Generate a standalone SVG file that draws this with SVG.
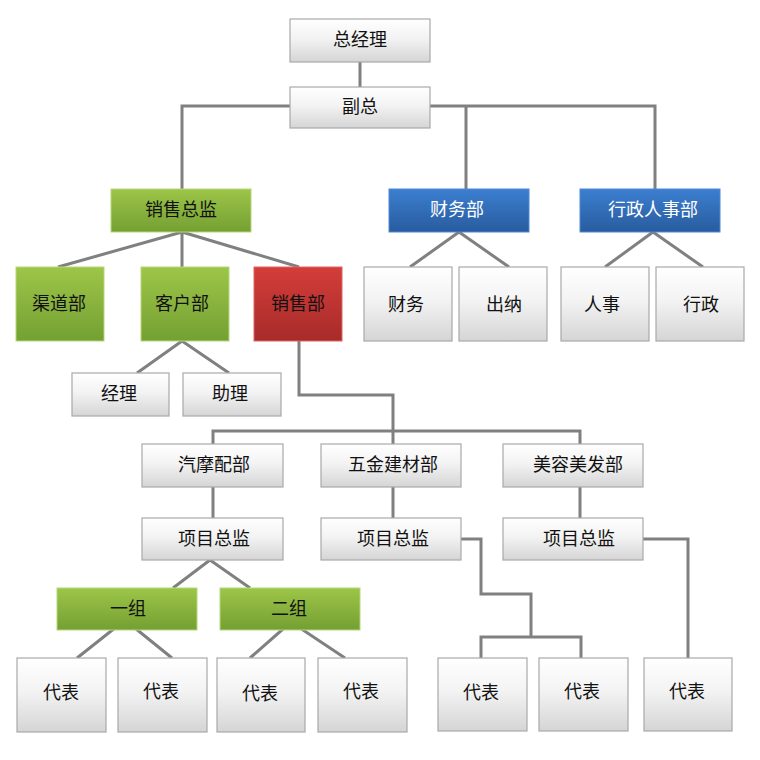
<svg xmlns="http://www.w3.org/2000/svg" width="760" height="760" viewBox="0 0 760 760">
<defs>
<linearGradient id="gGrey" x1="0" y1="0" x2="0" y2="1">
<stop offset="0" stop-color="#ffffff"/><stop offset="0.45" stop-color="#f3f3f3"/><stop offset="1" stop-color="#d5d5d5"/>
</linearGradient>
<linearGradient id="gGreen" x1="0" y1="0" x2="0" y2="1">
<stop offset="0" stop-color="#9dc548"/><stop offset="1" stop-color="#74a033"/>
</linearGradient>
<linearGradient id="gRed" x1="0" y1="0" x2="0" y2="1">
<stop offset="0" stop-color="#d43d3a"/><stop offset="1" stop-color="#a72b2a"/>
</linearGradient>
<linearGradient id="gBlue" x1="0" y1="0" x2="0" y2="1">
<stop offset="0" stop-color="#3b7fd0"/><stop offset="1" stop-color="#295b9e"/>
</linearGradient>
</defs>
<style>
.grey{fill:url(#gGrey);stroke:#a9a9a9;stroke-width:1.2}
.green{fill:url(#gGreen);stroke:#b5d77a;stroke-width:1}
.red{fill:url(#gRed);stroke:#d66;stroke-width:1}
.blue{fill:url(#gBlue);stroke:#4f8ad6;stroke-width:1}
text{font-family:"Noto Sans CJK SC","Microsoft YaHei",sans-serif;font-size:18px;text-anchor:middle;dominant-baseline:central;fill:#111}
.w{fill:#ffffff}
.c{fill:none;stroke:#808080;stroke-width:3}
</style>
<rect width="760" height="760" fill="#ffffff"/>
<g id="connectors">
<path class="c" d="M360 62V87"/>
<path class="c" d="M290 106H182V189"/>
<path class="c" d="M430 106H655V189M466 106V189"/>
<path class="c" d="M182 232L58 267M182 232V267M182 232L299 267"/>
<path class="c" d="M459 232L410 267M459 232L509 267"/>
<path class="c" d="M653 232L605 267M653 232L703 267"/>
<path class="c" d="M182 341L137 373M182 341L229 373"/>
<path class="c" d="M299 341V395H393V444"/>
<path class="c" d="M213 444V431H580V444"/>
<path class="c" d="M213 487V518M393 487V518M580 487V518"/>
<path class="c" d="M210 560L173 588M210 560L250 588"/>
<path class="c" d="M125 620L77 658M125 620L172 658"/>
<path class="c" d="M291 622L250 658M291 622L345 658"/>
<path class="c" d="M461 539H481V594H531V637M481 658V637H581V658"/>
<path class="c" d="M643 539H688V658"/>
</g>
<g id="n-zjl"><rect class="grey" x="290" y="19" width="140" height="43"/><text x="360" y="38">总经理</text></g>
<g id="n-fz"><rect class="grey" x="290" y="87" width="140" height="41"/><text x="360" y="105">副总</text></g>
<g id="n-xszj"><rect class="green" x="111" y="189" width="140" height="43"/><text x="181" y="208">销售总监</text></g>
<g id="n-cwb"><rect class="blue" x="389" y="189" width="140" height="43"/><text class="w" x="457" y="208">财务部</text></g>
<g id="n-xzrsb"><rect class="blue" x="580" y="189" width="140" height="43"/><text class="w" x="653" y="208">行政人事部</text></g>
<g id="n-qdb"><rect class="green" x="16" y="267" width="88" height="74"/><text x="59" y="302">渠道部</text></g>
<g id="n-khb"><rect class="green" x="141" y="267" width="88" height="74"/><text x="182" y="302">客户部</text></g>
<g id="n-xsb"><rect class="red" x="254" y="267" width="88" height="74"/><text x="298" y="302">销售部</text></g>
<g id="n-cw"><rect class="grey" x="364" y="267" width="88" height="74"/><text x="406" y="303">财务</text></g>
<g id="n-cn"><rect class="grey" x="459" y="267" width="88" height="74"/><text x="504" y="303">出纳</text></g>
<g id="n-rs"><rect class="grey" x="561" y="267" width="88" height="74"/><text x="602" y="303">人事</text></g>
<g id="n-xz"><rect class="grey" x="656" y="267" width="88" height="74"/><text x="701" y="303">行政</text></g>
<g id="n-jl"><rect class="grey" x="72" y="373" width="97" height="43"/><text x="119" y="392">经理</text></g>
<g id="n-zl"><rect class="grey" x="183" y="373" width="98" height="43"/><text x="230" y="392">助理</text></g>
<g id="n-qmp"><rect class="grey" x="142" y="444" width="141" height="43"/><text x="214" y="463">汽摩配部</text></g>
<g id="n-wjjc"><rect class="grey" x="321" y="444" width="140" height="43"/><text x="393" y="463">五金建材部</text></g>
<g id="n-mrmf"><rect class="grey" x="503" y="444" width="140" height="43"/><text x="578" y="463">美容美发部</text></g>
<g id="n-xmzj1"><rect class="grey" x="142" y="518" width="141" height="42"/><text x="214" y="537">项目总监</text></g>
<g id="n-xmzj2"><rect class="grey" x="321" y="518" width="140" height="42"/><text x="393" y="537">项目总监</text></g>
<g id="n-xmzj3"><rect class="grey" x="503" y="518" width="140" height="42"/><text x="579" y="537">项目总监</text></g>
<g id="n-yz"><rect class="green" x="57" y="588" width="140" height="42"/><text x="128" y="607">一组</text></g>
<g id="n-ez"><rect class="green" x="220" y="588" width="140" height="42"/><text x="289" y="607">二组</text></g>
<g id="n-db1"><rect class="grey" x="17" y="658" width="89" height="74"/><text x="61" y="691">代表</text></g>
<g id="n-db2"><rect class="grey" x="118" y="658" width="89" height="74"/><text x="161" y="690">代表</text></g>
<g id="n-db3"><rect class="grey" x="217" y="658" width="88" height="74"/><text x="260" y="692">代表</text></g>
<g id="n-db4"><rect class="grey" x="318" y="658" width="89" height="74"/><text x="361" y="690">代表</text></g>
<g id="n-db5"><rect class="grey" x="438" y="658" width="89" height="73"/><text x="481" y="691">代表</text></g>
<g id="n-db6"><rect class="grey" x="539" y="658" width="89" height="73"/><text x="582" y="690">代表</text></g>
<g id="n-db7"><rect class="grey" x="644" y="658" width="88" height="73"/><text x="687" y="690">代表</text></g>
</svg>
